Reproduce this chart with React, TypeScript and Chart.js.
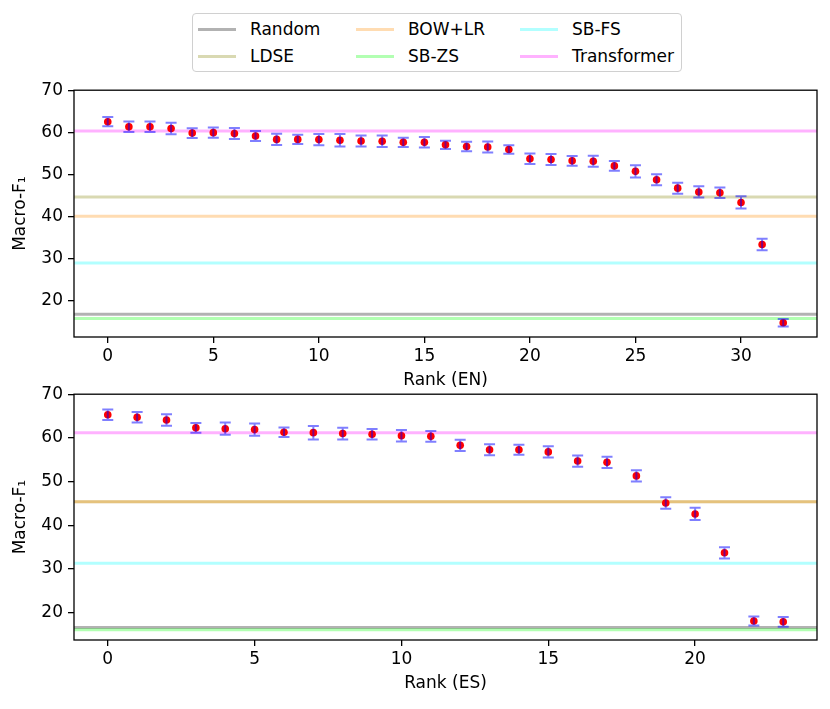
import React, { useEffect, useRef } from 'react';
import { Chart, registerables } from 'chart.js';

Chart.register(...registerables);
Chart.defaults.font.family = "'DejaVu Sans', sans-serif";
Chart.defaults.font.size = 17;
Chart.defaults.color = '#000';

// ranking positions and scores (EN panel)
const ranksEN = [0, 1, 2, 3, 4, 5, 6, 7, 8, 9, 10, 11, 12, 13, 14, 15, 16, 17, 18, 19, 20, 21, 22, 23, 24, 25, 26, 27, 28, 29, 30, 31, 32];
const scoresEN = [62.5, 61.3, 61.3, 60.9, 59.8, 59.9, 59.7, 59.1, 58.3, 58.3, 58.25, 58.1, 57.9, 57.85, 57.6, 57.6, 57.0, 56.6, 56.5, 55.9, 53.7, 53.5, 53.2, 53.1, 52.0, 50.7, 48.7, 46.7, 45.8, 45.6, 43.3, 33.3, 14.7];
const errorsEN = [1.1, 1.25, 1.25, 1.35, 1.15, 1.2, 1.3, 1.2, 1.35, 1.1, 1.35, 1.5, 1.3, 1.35, 1.1, 1.25, 1.0, 1.15, 1.3, 1.0, 1.25, 1.3, 1.15, 1.3, 1.15, 1.45, 1.3, 1.3, 1.35, 1.25, 1.45, 1.35, 0.9];

// ranking positions and scores (ES panel)
const ranksES = [0, 1, 2, 3, 4, 5, 6, 7, 8, 9, 10, 11, 12, 13, 14, 15, 16, 17, 18, 19, 20, 21, 22, 23];
const scoresES = [65.3, 64.7, 64.1, 62.3, 62.1, 61.9, 61.3, 61.2, 61.0, 60.85, 60.5, 60.35, 58.3, 57.3, 57.3, 56.8, 54.7, 54.4, 51.3, 45.1, 42.6, 33.7, 18.1, 17.9];
const errorsES = [1.2, 1.2, 1.3, 1.1, 1.4, 1.4, 1.1, 1.55, 1.35, 1.2, 1.3, 1.25, 1.3, 1.25, 1.15, 1.3, 1.3, 1.3, 1.3, 1.3, 1.4, 1.3, 1.05, 1.1];

// baseline systems
const baselineNames = ['Random', 'LDSE', 'BOW+LR', 'SB-ZS', 'SB-FS', 'Transformer'];
const baselineColors = [
  'rgba(0,0,0,0.3)',
  'rgba(128,128,0,0.3)',
  'rgba(255,140,0,0.3)',
  'rgba(0,255,0,0.3)',
  'rgba(0,255,255,0.3)',
  'rgba(255,0,255,0.3)',
];
const baselinesEN = [16.7, 44.6, 40.0, 15.7, 28.9, 60.3];
const baselinesES = [16.6, 45.4, 45.4, 16.1, 31.3, 61.2];

const xTicksEN = [0, 5, 10, 15, 20, 25, 30];
const xTicksES = [0, 5, 10, 15, 20];
const yTicks = [20, 30, 40, 50, 60, 70];

const errorBarPlugin = {
  id: 'errorBars',
  afterDatasetsDraw(chart: any) {
    const { ctx } = chart;
    const y = chart.scales.y;
    chart.data.datasets.forEach((ds: any, i: number) => {
      if (!ds.errors) return;
      const meta = chart.getDatasetMeta(i);
      ctx.save();
      ctx.strokeStyle = 'rgba(0,0,255,0.5)';
      ctx.lineWidth = 2;
      meta.data.forEach((pt: any, j: number) => {
        const v = ds.data[j].y;
        const top = y.getPixelForValue(v + ds.errors[j]);
        const bot = y.getPixelForValue(v - ds.errors[j]);
        ctx.beginPath();
        ctx.moveTo(pt.x, top);
        ctx.lineTo(pt.x, bot);
        ctx.moveTo(pt.x - 5.5, top);
        ctx.lineTo(pt.x + 5.5, top);
        ctx.moveTo(pt.x - 5.5, bot);
        ctx.lineTo(pt.x + 5.5, bot);
        ctx.stroke();
      });
      ctx.restore();
    });
  },
};

const framePlugin = {
  id: 'frame',
  afterDraw(chart: any) {
    const { ctx, chartArea: a } = chart;
    ctx.save();
    ctx.strokeStyle = '#000';
    ctx.lineWidth = 1.3;
    ctx.strokeRect(a.left, a.top, a.right - a.left, a.bottom - a.top);
    ctx.restore();
  },
};

interface PanelProps {
  ranks: number[];
  scores: number[];
  errors: number[];
  baselines: number[];
  xTicks: number[];
  xMin: number;
  xMax: number;
  yMin: number;
  xLabel: string;
  top: number;
  padTop: number;
  plotHeight: number;
}

const RankPanel: React.FC<PanelProps> = (p) => {
  const canvasRef = useRef<HTMLCanvasElement>(null);
  const height = p.padTop + p.plotHeight + 54;

  useEffect(() => {
    if (!canvasRef.current) return;
    const lines = p.baselines.map((v, i) => ({
      type: 'line' as const,
      label: baselineNames[i],
      data: [{ x: p.xMin, y: v }, { x: p.xMax, y: v }],
      borderColor: baselineColors[i],
      borderWidth: 3,
      pointRadius: 0,
      order: 10 - i,
    }));
    const chart = new Chart(canvasRef.current, {
      type: 'scatter',
      data: {
        datasets: [
          {
            type: 'scatter',
            label: 'runs',
            data: p.ranks.map((r, i) => ({ x: r, y: p.scores[i] })),
            backgroundColor: '#ff0000',
            borderWidth: 0,
            pointRadius: 3.8,
            order: 0,
            errors: p.errors,
          } as any,
          ...lines,
        ],
      },
      options: {
        responsive: true,
        maintainAspectRatio: false,
        animation: false,
        layout: { padding: { top: p.padTop, right: 13, left: 0, bottom: 0 } },
        plugins: { legend: { display: false }, tooltip: { enabled: false } },
        scales: {
          x: {
            type: 'linear',
            min: p.xMin,
            max: p.xMax,
            afterBuildTicks: (s: any) => {
              s.ticks = p.xTicks.map((v) => ({ value: v }));
            },
            afterFit: (s: any) => {
              s.height = 54;
            },
            ticks: { includeBounds: false, padding: 3, maxRotation: 0 },
            grid: { drawOnChartArea: false, drawTicks: true, tickLength: 6, color: '#000', lineWidth: 1.3 },
            border: { display: false },
            title: { display: true, text: p.xLabel, padding: { top: 0, bottom: 0 } },
          },
          y: {
            type: 'linear',
            min: p.yMin,
            max: 70,
            afterBuildTicks: (s: any) => {
              s.ticks = yTicks.map((v) => ({ value: v }));
            },
            afterFit: (s: any) => {
              s.width = 74;
            },
            ticks: { includeBounds: false, padding: 5 },
            grid: { drawOnChartArea: false, drawTicks: true, tickLength: 6, color: '#000', lineWidth: 1.3 },
            border: { display: false },
            title: { display: true, text: 'Macro-F₁', padding: { top: 10, bottom: 0 } },
          },
        },
      },
      plugins: [errorBarPlugin, framePlugin],
    });
    return () => chart.destroy();
  }, []);

  return (
    <div style={{ position: 'absolute', left: 0, top: p.top, width: 830, height }}>
      <canvas ref={canvasRef}></canvas>
    </div>
  );
};

const legendCols = [5, 163, 327];

const Legend: React.FC = () => (
  <div
    style={{
      position: 'absolute',
      left: 192,
      top: 13,
      width: 488,
      height: 57,
      border: '1px solid #d0d0d0',
      borderRadius: 4,
      fontFamily: "'DejaVu Sans', sans-serif",
      fontSize: 17,
      color: '#000',
    }}
  >
    {baselineNames.map((name, i) => {
      const col = Math.floor(i / 2);
      const row = i % 2;
      const left = legendCols[col];
      const cy = 15 + row * 27;
      return (
        <React.Fragment key={name}>
          <div
            style={{
              position: 'absolute',
              left,
              top: cy - 1.5,
              width: 38,
              height: 3,
              background: baselineColors[i],
            }}
          />
          <div style={{ position: 'absolute', left: left + 52, top: cy - 10, lineHeight: '20px', whiteSpace: 'nowrap' }}>
            {name}
          </div>
        </React.Fragment>
      );
    })}
  </div>
);

export default function App() {
  return (
    <div style={{ position: 'absolute', left: 0, top: 0, width: 830, height: 709, background: '#fff' }}>
      <Legend />
      <RankPanel
        ranks={ranksEN}
        scores={scoresEN}
        errors={errorsEN}
        baselines={baselinesEN}
        xTicks={xTicksEN}
        xMin={-1.6}
        xMax={33.6}
        yMin={11.3}
        xLabel="Rank (EN)"
        top={75}
        padTop={15}
        plotHeight={247}
      />
      <RankPanel
        ranks={ranksES}
        scores={scoresES}
        errors={errorsES}
        baselines={baselinesES}
        xTicks={xTicksES}
        xMin={-1.15}
        xMax={24.15}
        yMin={13.75}
        xLabel="Rank (ES)"
        top={379}
        padTop={15}
        plotHeight={246}
      />
    </div>
  );
}
